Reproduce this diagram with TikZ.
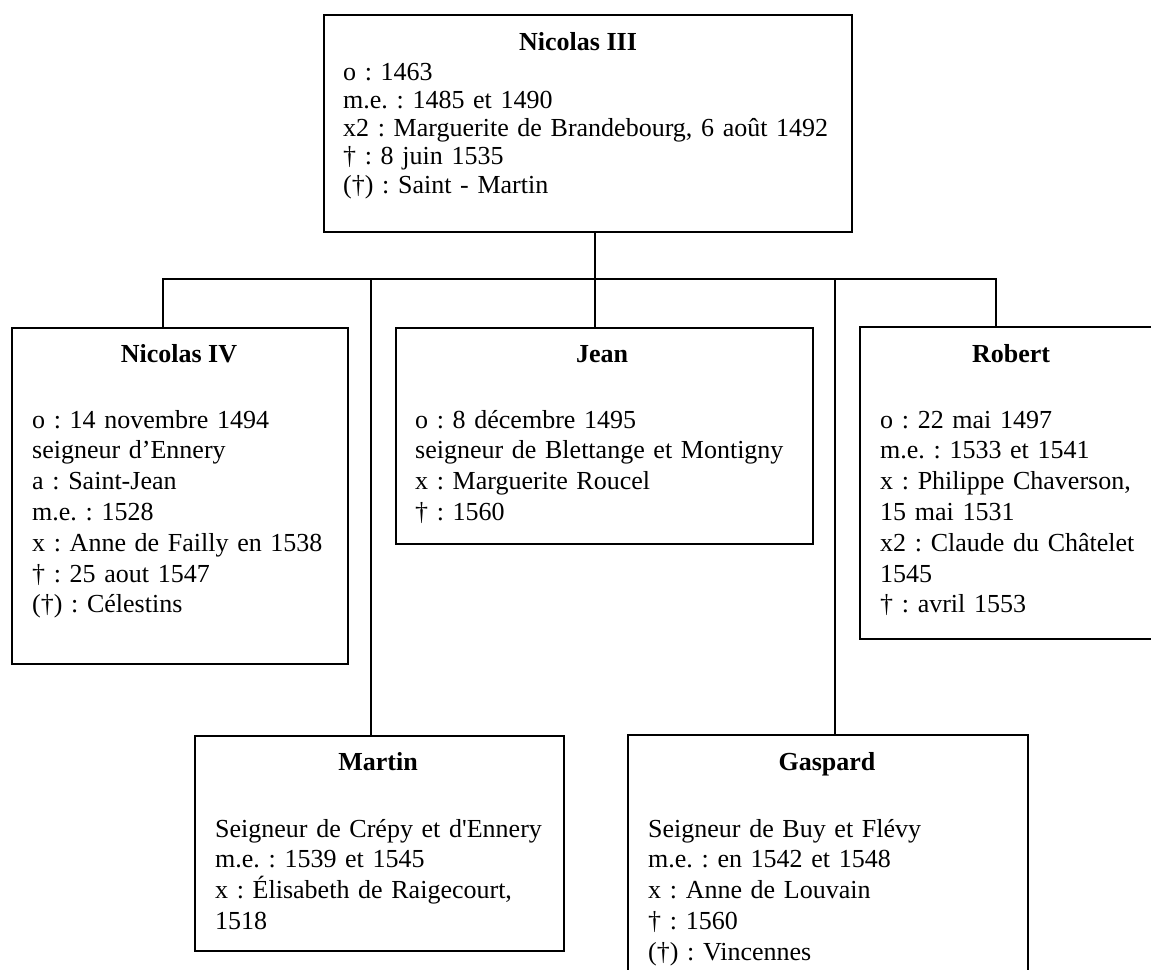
\documentclass[tikz,border=0pt]{standalone}
\usepackage{fontspec}
\setmainfont{Liberation Serif}
\frenchspacing
\begin{document}
\frenchspacing
\begin{tikzpicture}[x=1pt,y=-1pt,
  box/.style={draw,line width=1.6pt,inner sep=0pt,anchor=north west},
  title/.style={font=\bfseries\fontsize{26}{30}\selectfont,anchor=base,inner sep=0pt},
  body/.style={anchor=base west,inner sep=0pt,text width=#1,align=left,font=\fontsize{26}{30.8}\selectfont\frenchspacing},
  body/.default=400pt,
  link/.style={line width=1.6pt}]
\useasboundingbox (0,0) rectangle (1151,969);
\clip (0,0) rectangle (1151,969);
% boxes
\node[box,minimum width=528pt,minimum height=217pt] (n3) at (323,14) {};
\node[box,minimum width=336pt,minimum height=336pt] (n4) at (11,327) {};
\node[box,minimum width=417pt,minimum height=216pt] (jean) at (395,327) {};
\node[box,minimum width=304pt,minimum height=312pt] (robert) at (859,326) {};
\node[box,minimum width=369pt,minimum height=215pt] (martin) at (194,735) {};
\node[box,minimum width=400pt,minimum height=270pt] (gaspard) at (627,734) {};
% texts
\node[title] (t3) at (578,50) {Nicolas III};
\node[body=500pt,font=\fontsize{26}{28.3}\selectfont\frenchspacing] (x3) at (343,80) {o : 1463\\ m.e. : 1485 et 1490\\ x2 : Marguerite de Brandebourg, 6 août 1492\\ † : 8 juin 1535\\ (†) : Saint - Martin};
\node[title] (t4) at (179,362) {Nicolas IV};
\node[body=310pt] (x4) at (32,428) {o : 14 novembre 1494\\ seigneur d’Ennery\\ a : Saint-Jean\\ m.e. : 1528\\ x : Anne de Failly en 1538\\ † : 25 aout 1547\\ (†) : Célestins};
\node[title] (tj) at (602,362) {Jean};
\node[body=400pt] (xj) at (415,428) {o : 8 décembre 1495\\ seigneur de Blettange et Montigny\\ x : Marguerite Roucel\\ † : 1560};
\node[title] (tr) at (1011,362) {Robert};
\node[body=270pt] (xr) at (880,428) {o : 22 mai 1497\\ m.e. : 1533 et 1541\\ x : Philippe Chaverson,\\ 15 mai 1531\\ x2 : Claude du Châtelet\\ 1545\\ † : avril 1553};
\node[title] (tm) at (378,770) {Martin};
\node[body=350pt] (xm) at (215,837) {Seigneur de Crépy et d{\addfontfeature{Ligatures=TeXOff}'}Ennery\\ m.e. : 1539 et 1545\\ x : Élisabeth de Raigecourt,\\ 1518};
\node[title] (tg) at (827,770) {Gaspard};
\node[body=370pt] (xg) at (648,837) {Seigneur de Buy et Flévy\\ m.e. : en 1542 et 1548\\ x : Anne de Louvain\\ † : 1560\\ (†) : Vincennes};
% connectors
\coordinate (b1) at (163,279);
\coordinate (b2) at (371,279);
\coordinate (b3) at (595,279);
\coordinate (b4) at (835,279);
\coordinate (b5) at (996,279);
\draw[link] (b1 |- n4.north) -- (b1) -- (b5) -- (b5 |- robert.north);
\draw[link] (b3 |- n3.south) -- (b3) -- (b3 |- jean.north);
\draw[link] (b2) -- (b2 |- martin.north);
\draw[link] (b4) -- (b4 |- gaspard.north);
\end{tikzpicture}
\end{document}
